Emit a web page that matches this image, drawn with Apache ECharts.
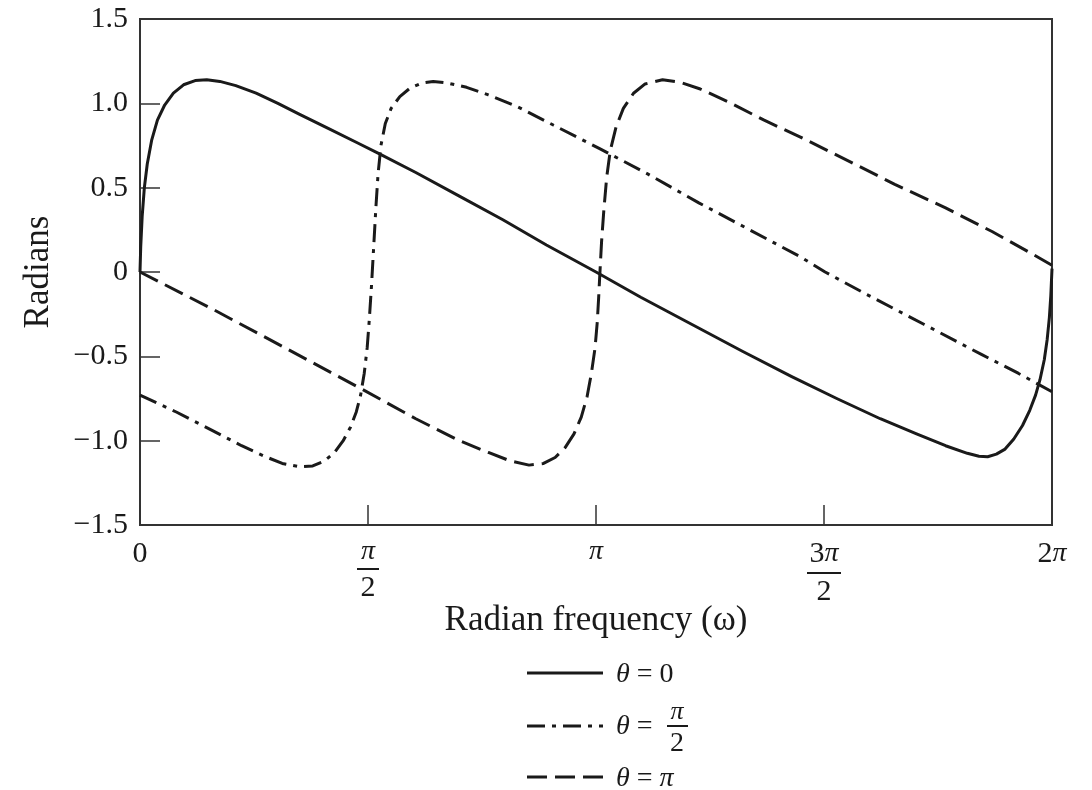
<!DOCTYPE html>
<html>
<head>
<meta charset="utf-8">
<script src="https://cdn.jsdelivr.net/npm/echarts@6/dist/echarts.min.js"></script>
<style>
html,body{margin:0;padding:0;background:#fff;}
#chart{width:1092px;height:790px;}
</style>
</head>
<body>
<div id="chart"></div>
<script>
// ---- data ----
const xTickLabels = ['0', 'π/2', 'π', '3π/2', '2π'];

const solidOmega = [0, 0.005, 0.015, 0.03, 0.05, 0.08, 0.12, 0.17, 0.23, 0.30, 0.38, 0.46, 0.55, 0.66, 0.80, 0.95, 1.10, 1.30, 1.50, 1.65, 1.90, 2.20, 2.50, 2.80, 3.1416, 3.45, 3.80, 4.15, 4.49, 4.80, 5.10, 5.35, 5.55, 5.70, 5.78, 5.84, 5.90, 5.96, 6.02, 6.08, 6.13, 6.17, 6.20, 6.23, 6.25, 6.265, 6.275, 6.2832];
const solidRad   = [0, 0.15, 0.33, 0.50, 0.64, 0.78, 0.90, 0.99, 1.06, 1.11, 1.135, 1.14, 1.13, 1.105, 1.06, 1.00, 0.935, 0.85, 0.765, 0.70, 0.59, 0.45, 0.31, 0.16, 0, -0.15, -0.31, -0.47, -0.62, -0.75, -0.87, -0.96, -1.03, -1.075, -1.092, -1.095, -1.08, -1.05, -0.99, -0.91, -0.82, -0.73, -0.64, -0.52, -0.40, -0.27, -0.14, 0.02];

const halfPiOmega = [0, 0.25, 0.50, 0.70, 0.85, 0.98, 1.10, 1.19, 1.27, 1.34, 1.40, 1.45, 1.49, 1.52, 1.545, 1.565, 1.58, 1.595, 1.61, 1.625, 1.64, 1.66, 1.69, 1.73, 1.79, 1.86, 1.94, 2.02, 2.12, 2.25, 2.40, 2.60, 2.85, 3.17, 3.50, 3.85, 4.20, 4.55, 4.72, 5.00, 5.40, 5.80, 6.05, 6.2832];
const halfPiRad   = [-0.73, -0.83, -0.94, -1.03, -1.09, -1.135, -1.155, -1.15, -1.12, -1.07, -1.00, -0.92, -0.83, -0.73, -0.60, -0.45, -0.28, -0.08, 0.15, 0.38, 0.58, 0.75, 0.88, 0.97, 1.04, 1.09, 1.12, 1.13, 1.12, 1.095, 1.05, 0.98, 0.87, 0.73, 0.58, 0.41, 0.25, 0.09, 0.0, -0.13, -0.31, -0.49, -0.60, -0.71];

const piOmega = [0, 0.5, 1.0, 1.52, 1.9, 2.2, 2.40, 2.55, 2.68, 2.78, 2.86, 2.93, 2.99, 3.04, 3.08, 3.11, 3.135, 3.15, 3.16, 3.17, 3.18, 3.195, 3.215, 3.24, 3.28, 3.33, 3.40, 3.48, 3.60, 3.72, 3.86, 4.05, 4.30, 4.55, 4.90, 5.20, 5.55, 5.87, 6.10, 6.2832];
const piRad   = [0, -0.22, -0.45, -0.69, -0.87, -1.0, -1.07, -1.12, -1.145, -1.135, -1.10, -1.04, -0.96, -0.86, -0.74, -0.60, -0.45, -0.30, -0.15, 0.02, 0.18, 0.36, 0.56, 0.72, 0.86, 0.97, 1.06, 1.115, 1.14, 1.125, 1.085, 1.01, 0.90, 0.80, 0.65, 0.52, 0.38, 0.24, 0.13, 0.04];

const seriesNames = ['θ = 0', 'θ = π/2', 'θ = π'];

// ---- helpers ----
function zip(xs, ys) { return xs.map((x, i) => [x, ys[i]]); }
const FONT = '"Liberation Serif","DejaVu Serif",serif';
const INK = '#1a1a1a';

function xLabel(v) {
  const idx = Math.round(v / (Math.PI / 2));
  const t = xTickLabels[idx];
  if (t === undefined) return '';
  if (t === '0') return '{a|0}';
  if (t === 'π') return '{n|π}';
  if (t === '2π') return '{a|2}{n|π}';
  if (t === 'π/2') return '{n|π}\n{bar| }\n{a|2}';
  if (t === '3π/2') return '{a|3}{n|π}\n{bar2| }\n{a|2}';
  return t;
}
function yLabel(v) {
  if (Math.abs(v) < 1e-9) return '0';
  return (v < 0 ? '\u2212' : '') + Math.abs(v).toFixed(1);
}

const chart = echarts.init(document.getElementById('chart'), null, { renderer: 'canvas' });

const legendY = [673, 726, 777];
const graphic = [];
const dashes = [null, [18, 7, 4, 7], [20, 8]];
for (let i = 0; i < 3; i++) {
  graphic.push({
    type: 'line', silent: true,
    shape: { x1: 527, y1: legendY[i], x2: 603, y2: legendY[i] },
    style: { stroke: INK, lineWidth: 3, lineDash: dashes[i] || null }
  });
}
const legRich = { i: { fontStyle: 'italic', fontSize: 28, fontFamily: FONT } };
graphic.push({ type: 'text', left: 616, top: legendY[0] - 12,
  style: { text: '{i|θ} = 0', fill: INK, font: '28px ' + FONT, rich: legRich } });
graphic.push({ type: 'text', left: 616, top: legendY[1] - 13,
  style: { text: '{i|θ} =', fill: INK, font: '28px ' + FONT, rich: legRich } });
graphic.push({ type: 'text', x: 677, y: 712,
  style: { text: 'π', fill: INK, font: 'italic 26px ' + FONT, align: 'center', verticalAlign: 'middle' } });
graphic.push({ type: 'rect', shape: { x: 667, y: 725, width: 21, height: 2 }, style: { fill: INK } });
graphic.push({ type: 'text', x: 677, y: 744,
  style: { text: '2', fill: INK, font: '28px ' + FONT, align: 'center', verticalAlign: 'middle' } });
graphic.push({ type: 'text', left: 616, top: legendY[2] - 12,
  style: { text: '{i|θ} = {i|π}', fill: INK, font: '28px ' + FONT, rich: legRich } });

const option = {
  backgroundColor: '#fff',
  animation: false,
  grid: { left: 140, right: 40, top: 19, bottom: 265, show: true, borderColor: '#333', borderWidth: 2, backgroundColor: 'transparent' },
  xAxis: {
    type: 'value', min: 0, max: 2 * Math.PI, interval: Math.PI / 2,
    name: 'Radian frequency (ω)', nameLocation: 'middle', nameGap: 78, nameMoveOverlap: false,
    nameTextStyle: { fontFamily: FONT, fontSize: 35, color: INK },
    axisLine: { show: true, onZero: false, lineStyle: { color: '#333', width: 2 } },
    axisTick: { show: true, inside: true, length: 20, lineStyle: { color: '#333', width: 1.5 } },
    splitLine: { show: false },
    axisLabel: {
      margin: 14, formatter: xLabel, color: INK, fontFamily: FONT, fontSize: 30,
      showMinLabel: true, showMaxLabel: true,
      rich: {
        a: { fontFamily: FONT, fontSize: 30, color: INK, lineHeight: 30 },
        n: { fontFamily: FONT, fontSize: 28, fontStyle: 'italic', color: INK, lineHeight: 26 },
        bar: { width: 22, height: 2, backgroundColor: INK, lineHeight: 8, fontSize: 1 },
        bar2: { width: 34, height: 2, backgroundColor: INK, lineHeight: 8, fontSize: 1 }
      }
    }
  },
  yAxis: {
    type: 'value', min: -1.5, max: 1.5, interval: 0.5,
    name: 'Radians', nameLocation: 'middle', nameGap: 84, nameRotate: 90, nameMoveOverlap: false,
    nameTextStyle: { fontFamily: FONT, fontSize: 35, color: INK },
    axisLine: { show: true, onZero: false, lineStyle: { color: '#333', width: 2 } },
    axisTick: { show: true, inside: true, length: 20, lineStyle: { color: '#333', width: 1.5 } },
    splitLine: { show: false },
    axisLabel: { margin: 12, formatter: yLabel, color: INK, fontFamily: FONT, fontSize: 30 }
  },
  graphic: graphic,
  series: [
    { name: seriesNames[0], type: 'line', data: zip(solidOmega, solidRad), showSymbol: false, symbol: 'none',
      smooth: false, lineStyle: { color: INK, width: 3, type: 'solid', join: 'round' } },
    { name: seriesNames[1], type: 'line', data: zip(halfPiOmega, halfPiRad), showSymbol: false, symbol: 'none',
      smooth: false, lineStyle: { color: INK, width: 3, type: [18, 7, 4, 7], join: 'round' } },
    { name: seriesNames[2], type: 'line', data: zip(piOmega, piRad), showSymbol: false, symbol: 'none',
      smooth: false, lineStyle: { color: INK, width: 3, type: [20, 8], join: 'round' } }
  ]
};
chart.setOption(option);
</script>
</body>
</html>
